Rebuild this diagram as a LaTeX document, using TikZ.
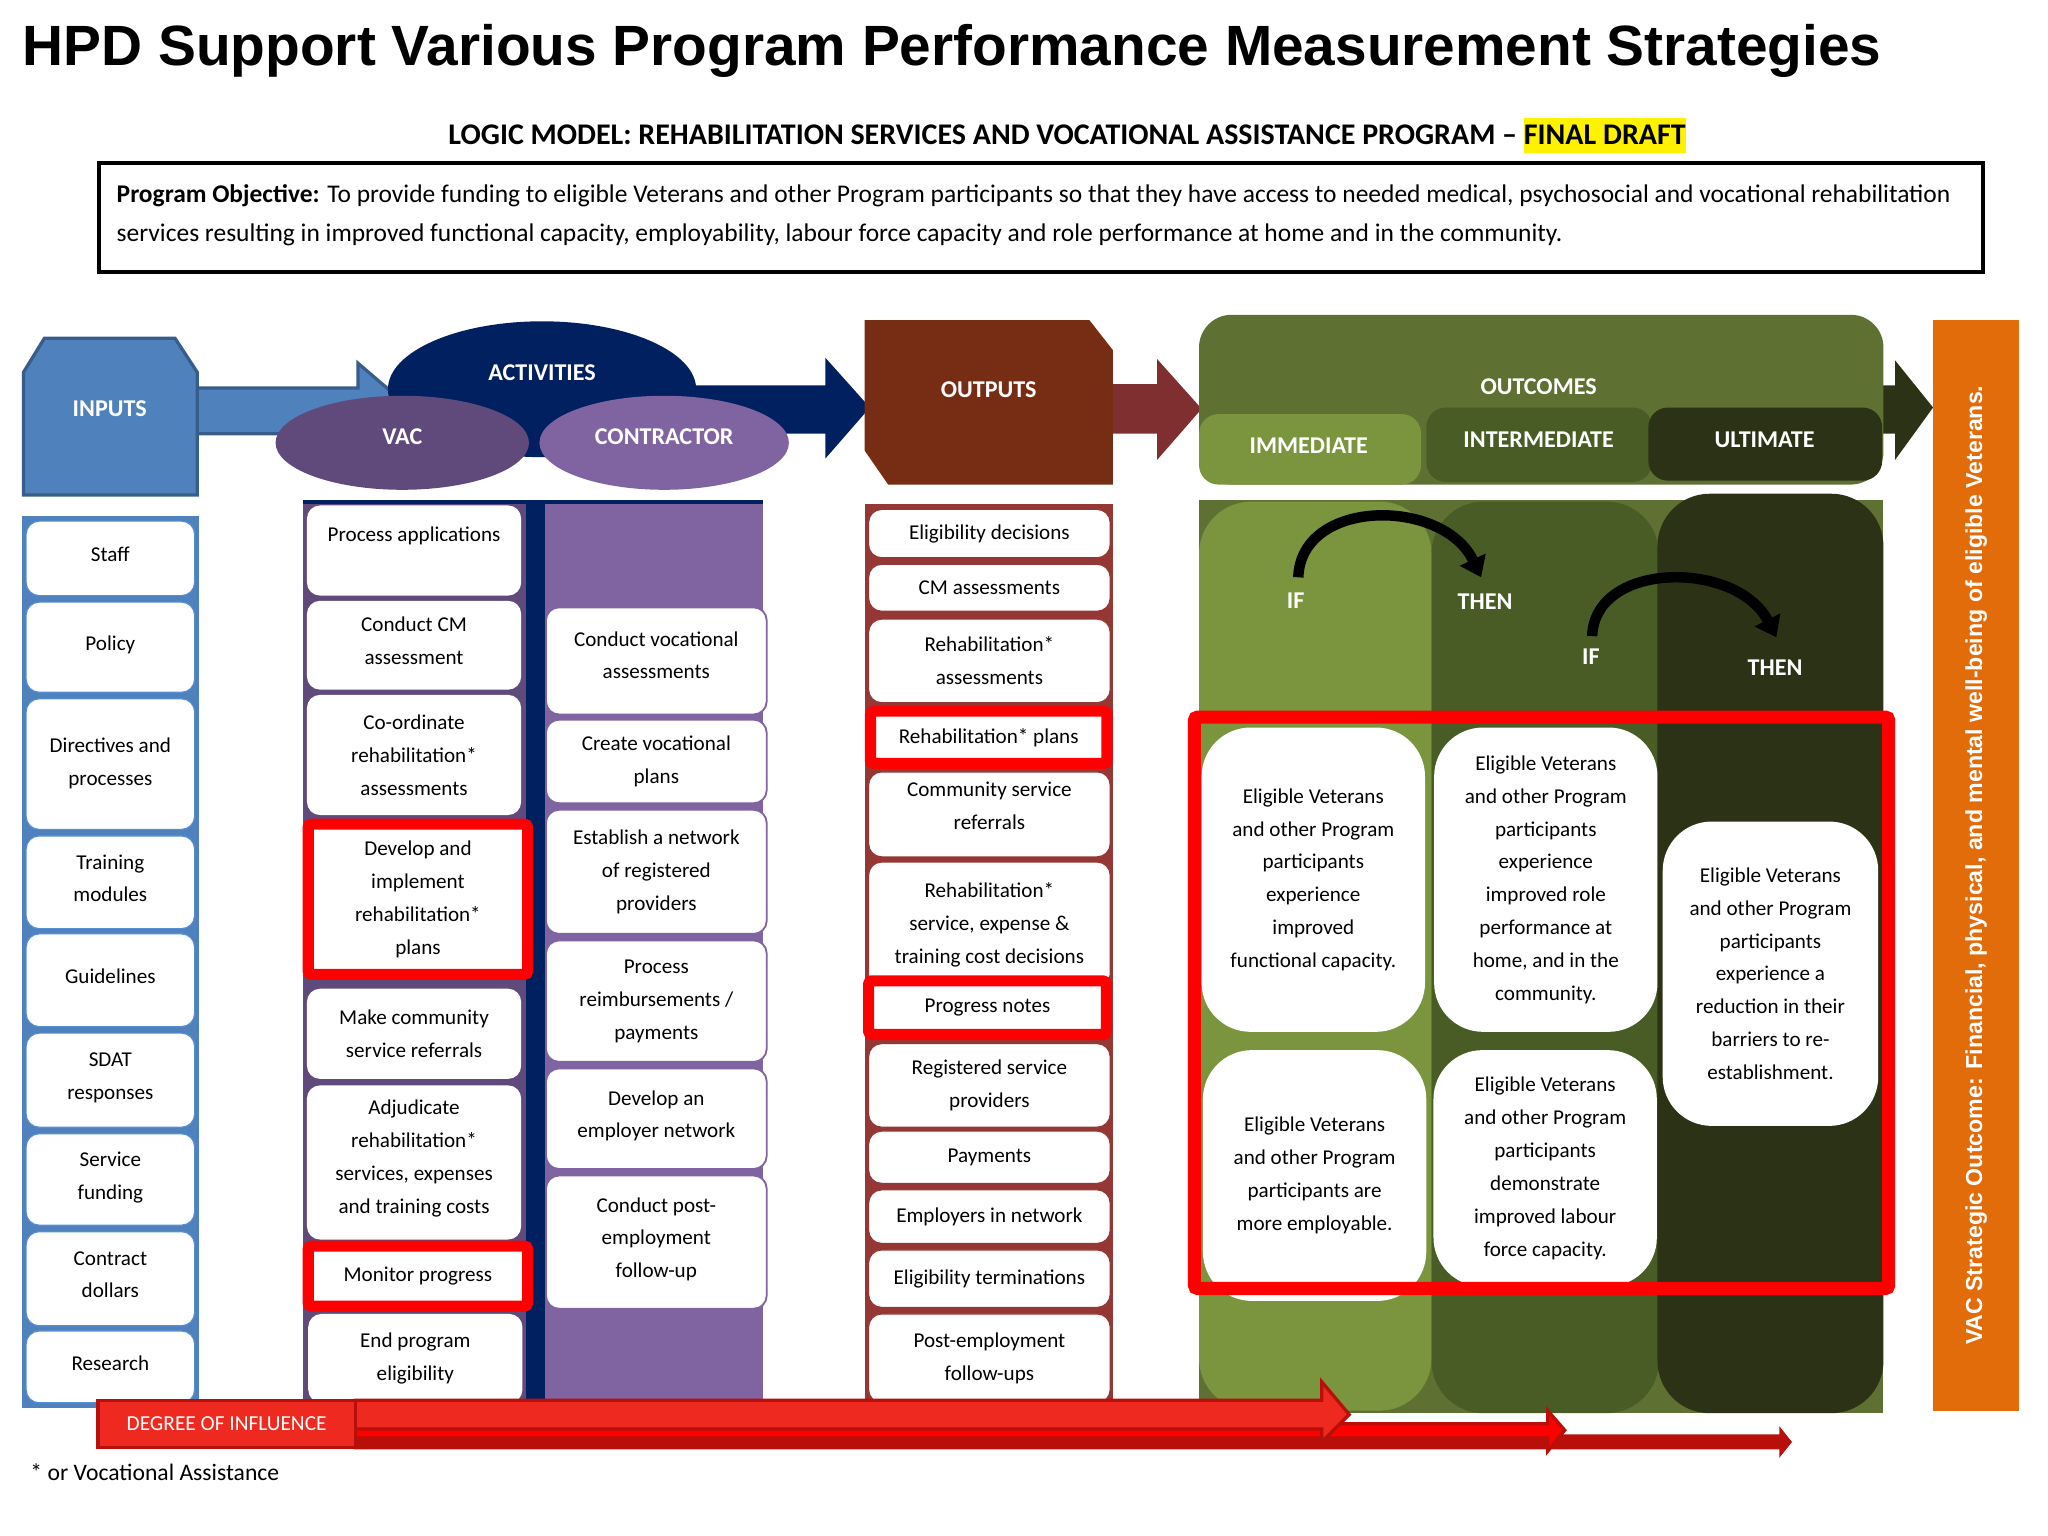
\documentclass[tikz,border=0pt]{standalone}
\usepackage{fontspec}
\setmainfont{Carlito}
\newfontfamily\arialfont{Liberation Sans}
\usetikzlibrary{shapes.geometric,arrows.meta}
\definecolor{inputblue}{HTML}{4F81BD}
\definecolor{inputedge}{HTML}{385D8A}
\definecolor{inputline}{HTML}{558ED5}
\definecolor{navy}{HTML}{002060}
\definecolor{vacpurple}{HTML}{604A7B}
\definecolor{conpurple}{HTML}{8064A2}
\definecolor{outbrown}{HTML}{772C14}
\definecolor{outarrow}{HTML}{7F2F30}
\definecolor{outcol}{HTML}{953735}
\definecolor{oliveback}{HTML}{5E7132}
\definecolor{olivelight}{HTML}{7A953D}
\definecolor{olivemid}{HTML}{4A5C25}
\definecolor{olivedark}{HTML}{2C3215}
\definecolor{barorange}{HTML}{E36C0A}
\definecolor{inflred}{HTML}{EE2A20}
\definecolor{infldark}{HTML}{B80F0A}
\tikzset{
  sized/.style 2 args={minimum width=#1*0.02cm,minimum height=#2*0.02cm},
  lift/.style={text depth=#1},
  txt/.style={inner sep=0pt,align=center,font=\fontsize{9.2}{14.3}\selectfont},
  wbox/.style={txt,fill=white,rounded corners=0.2cm},
  inbox/.style={wbox,draw=inputline,line width=0.5pt,lift=3.5pt},
  vacbox/.style={wbox},
  conbox/.style={wbox,draw=conpurple,line width=0.8pt},
  outbox/.style={wbox,draw=outcol,line width=0.5pt},
  redbox/.style={txt,fill=white,draw=red,line width=0.17cm,rounded corners=0.05cm},
  bigbox/.style={wbox,rounded corners=0.75cm},
  head/.style={inner sep=0pt,text=white,align=center,font=\fontsize{10.5}{12}\selectfont\bfseries},
}
\begin{document}
\begin{tikzpicture}[x=0.02cm,y=-0.02cm]
  \useasboundingbox (0,0) rectangle (1568,1176);
  % title and objective
  \node[anchor=west,inner sep=0pt,font=\arialfont\fontsize{24.75}{28}\selectfont\bfseries] (title) at (17,39) {HPD Support Various Program Performance Measurement Strategies};
  \fill[yellow] (1167,90) rectangle (1291,117);
  \node[anchor=west,inner sep=0pt,font=\fontsize{13.07}{15}\selectfont\bfseries] (subtitle) at (343,103) {LOGIC MODEL: REHABILITATION SERVICES AND VOCATIONAL ASSISTANCE PROGRAM -- FINAL DRAFT};
  \draw[line width=0.06cm] (76,125) rectangle (1518,208);
  \node[anchor=west,inner sep=0pt,font=\fontsize{11.1}{13}\selectfont] (objectiveone) at (89,150) {\textbf{Program Objective:} To provide funding to eligible Veterans and other Program participants so that they have access to needed medical, psychosocial and vocational rehabilitation};
  \node[anchor=west,inner sep=0pt,font=\fontsize{11.1}{13}\selectfont] (objectivetwo) at (89,180) {services resulting in improved functional capacity, employability, labour force capacity and role performance at home and in the community.};

  % inputs
  \draw[fill=inputblue,draw=inputedge,line width=0.05cm] (150,297) -- (274,297) -- (274,278) -- (316,314) -- (274,350) -- (274,332) -- (150,332) -- cycle;
  \draw[fill=inputblue,draw=inputedge,line width=0.05cm] (18,285) -- (34,259) -- (134,259) -- (151,285) -- (151,379) -- (18,379) -- cycle;
  \node[head] (inputs) at (84,313) {INPUTS};
  \fill[inputblue] (17,395) rectangle (152,1078);
  \node[inbox,sized={129}{57}] (staff) at (84.5,427.5) {Staff};
  \node[inbox,sized={129}{69}] (policy) at (84.5,495.5) {Policy};
  \node[inbox,lift=2pt,sized={129}{100}] (directives) at (84.5,585) {Directives and\\processes};
  \node[inbox,sized={129}{71}] (training) at (84.5,675.5) {Training\\modules};
  \node[inbox,sized={129}{71}] (guidelines) at (84.5,750.5) {Guidelines};
  \node[inbox,sized={129}{72}] (sdat) at (84.5,827) {SDAT\\responses};
  \node[inbox,sized={129}{70}] (service) at (84.5,903) {Service\\funding};
  \node[inbox,sized={129}{72}] (contract) at (84.5,979) {Contract\\dollars};
  \node[inbox,sized={129}{55}] (research) at (84.5,1046.5) {Research};

  % activities
  \fill[navy] (520,295) -- (632,295) -- (632,274) -- (666,312) -- (632,351) -- (632,332) -- (520,332) -- cycle;
  \node[ellipse,fill=navy,sized={236}{104},head] (activities) at (415,298) {\raisebox{0.52cm}{ACTIVITIES}};
  \node[ellipse,fill=vacpurple,sized={194}{72},head] (vac) at (308,339) {\raisebox{0.2cm}{VAC}};
  \node[ellipse,fill=conpurple,sized={191}{72},head] (contractor) at (508.5,339) {\raisebox{0.2cm}{CONTRACTOR}};
  \fill[navy] (232,383) rectangle (584,1072);
  \fill[vacpurple] (232,386) rectangle (403,1072);
  \fill[conpurple] (417,386) rectangle (584,1072);
  \node[vacbox,sized={164}{69}] (applications) at (317,421.5) {Process applications\\\mbox{}};
  \node[vacbox,lift=4pt,sized={164}{68}] (cmassess) at (317,494) {Conduct CM\\assessment};
  \node[vacbox,sized={164}{92}] (coordinate) at (317,578) {Co-ordinate\\rehabilitation*\\assessments};
  \node[vacbox,sized={164}{69}] (referrals) at (317,791.5) {Make community\\service referrals};
  \node[vacbox,lift=5pt,sized={164}{118}] (adjudicate) at (317,890) {Adjudicate\\rehabilitation*\\services, expenses\\and training costs};
  \node[vacbox,sized={164}{68}] (endprogram) at (318,1040) {End program\\eligibility};
  \node[redbox,sized={168}{115}] (develop) at (320,688.5) {Develop and\\implement\\rehabilitation*\\plans};
  \node[redbox,sized={168}{46}] (monitor) at (320,977) {Monitor progress};
  \node[conbox,lift=5pt,sized={169}{82}] (vocational) at (502.5,506) {Conduct vocational\\assessments};
  \node[conbox,sized={169}{64}] (vocplans) at (502.5,583) {Create vocational\\plans};
  \node[conbox,sized={169}{95}] (network) at (502.5,667.5) {Establish a network\\of registered\\providers};
  \node[conbox,sized={169}{93}] (reimburse) at (502.5,766.5) {Process\\reimbursements /\\payments};
  \node[conbox,lift=4pt,sized={169}{77}] (employer) at (502.5,856.5) {Develop an\\employer network};
  \node[conbox,lift=4pt,sized={169}{102}] (postemploy) at (502.5,951) {Conduct post-\\employment\\follow-up};

  % outputs
  \fill[outarrow] (840,294) -- (886,294) -- (886,275) -- (920,313) -- (886,352) -- (886,332) -- (840,332) -- cycle;
  \fill[outbrown] (662,245) -- (834,245) -- (852,268) -- (852,371) -- (680,371) -- (662,345) -- cycle;
  \node[head] (outputs) at (757,298) {OUTPUTS};
  \fill[outcol] (662,386) rectangle (852,1072);
  \node[outbox,sized={185}{37}] (decisions) at (757.5,408.5) {Eligibility decisions};
  \node[outbox,sized={185}{36}] (cmout) at (757.5,450) {CM assessments};
  \node[outbox,sized={185}{64}] (rehabassess) at (757.5,506) {Rehabilitation*\\assessments};
  \node[outbox,lift=7.5pt,sized={185}{65}] (community) at (757.5,623.5) {Community service\\referrals};
  \node[outbox,sized={185}{96}] (rehabservice) at (757.5,708) {Rehabilitation*\\service, expense \&\\training cost decisions};
  \node[outbox,sized={185}{64}] (registered) at (757.5,831) {Registered service\\providers};
  \node[outbox,sized={185}{40}] (payments) at (757.5,886) {Payments};
  \node[outbox,sized={185}{41}] (employers) at (757.5,931.5) {Employers in network};
  \node[outbox,sized={185}{44}] (terminations) at (757.5,979) {Eligibility terminations};
  \node[outbox,sized={185}{68}] (followups) at (757.5,1040) {Post-employment\\follow-ups};
  \node[redbox,sized={181}{40}] (rehabplans) at (757,564.5) {Rehabilitation* plans};
  \node[redbox,sized={182}{41}] (progress) at (756,771.5) {Progress notes};

  % outcomes
  \fill[olivedark] (1430,295) -- (1451,295) -- (1451,276) -- (1480,312) -- (1451,352) -- (1451,332) -- (1430,332) -- cycle;
  \fill[oliveback,rounded corners=0.5cm] (918,241) rectangle (1442,371);
  \node[head] (outcomes) at (1178,296) {OUTCOMES};
  \fill[olivelight,rounded corners=0.3cm] (918,317) rectangle (1088,371);
  \fill[olivemid,rounded corners=0.3cm] (1092,312) rectangle (1265,369);
  \fill[olivedark,rounded corners=0.3cm] (1262,312) rectangle (1441,368);
  \node[head] (immediate) at (1002,341) {IMMEDIATE};
  \node[head] (intermediate) at (1178,337) {INTERMEDIATE};
  \node[head] (ultimate) at (1351,337) {ULTIMATE};
  \fill[oliveback] (918,383) rectangle (1442,1082);
  \fill[olivelight,rounded corners=0.8cm] (918,384) rectangle (1096,1080);
  \fill[olivemid,rounded corners=0.8cm] (1096,384) rectangle (1270,1082);
  \fill[olivedark,rounded corners=0.8cm] (1269,378) rectangle (1442,1082);
  \node[head] (ifone) at (992,460) {IF};
  \node[head] (thenone) at (1137,461) {THEN};
  \node[head] (iftwo) at (1218,503) {IF};
  \node[head] (thentwo) at (1359,511) {THEN};
  \coordinate (ifonetop) at (994,442);
  \coordinate (thenonetop) at (1134,442);
  \coordinate (iftwotop) at (1219,487);
  \coordinate (thentwotop) at (1360,488);
  \draw[line width=0.16cm,-{Triangle[width=0.42cm,length=0.3cm]}] (ifonetop) .. controls (996,381) and (1105,381) .. (thenonetop);
  \draw[line width=0.16cm,-{Triangle[width=0.42cm,length=0.3cm]}] (iftwotop) .. controls (1221,429) and (1330,429) .. (thentwotop);
  \node[bigbox,sized={171}{233}] (functional) at (1005.5,673.5) {Eligible Veterans\\and other Program\\participants\\experience\\improved\\functional capacity.};
  \node[bigbox,sized={171}{233}] (roleperf) at (1183.5,673.5) {Eligible Veterans\\and other Program\\participants\\experience\\improved role\\performance at\\home, and in the\\community.};
  \node[bigbox,sized={171}{192}] (employable) at (1006.5,900) {Eligible Veterans\\and other Program\\participants are\\more employable.};
  \node[bigbox,sized={171}{181}] (labour) at (1183,894.5) {Eligible Veterans\\and other Program\\participants\\demonstrate\\improved labour\\force capacity.};
  \node[bigbox,sized={165}{233}] (barriers) at (1355.5,745.5) {Eligible Veterans\\and other Program\\participants\\experience a\\reduction in their\\barriers to re-\\establishment.};
  \draw[red,line width=0.2cm,rounded corners=0.05cm] (914.5,549) rectangle (1446,986.5);

  % strategic outcome bar
  \node[fill=barorange,text=white,rotate=90,inner sep=0pt,sized={835}{66},font=\arialfont\fontsize{10.08}{12}\selectfont\bfseries] (strategic) at (1513,662.5) {VAC Strategic Outcome: Financial, physical, and mental well-being of eligible Veterans.};

  % degree of influence
  \draw[fill=infldark,draw=infldark,line width=0.03cm] (272,1099) -- (1363,1099) -- (1363,1094) -- (1371,1104) -- (1363,1114) -- (1363,1109) -- (272,1109) -- cycle;
  \draw[fill=red,draw=infldark,line width=0.05cm] (272,1090) -- (1185,1090) -- (1185,1080) -- (1198,1095) -- (1185,1111) -- (1185,1101) -- (272,1101) -- cycle;
  \draw[fill=inflred,draw=infldark,line width=0.05cm] (272,1072) -- (1012,1072) -- (1012,1058) -- (1033,1083) -- (1012,1104) -- (1012,1094) -- (272,1094) -- cycle;
  \node[fill=inflred,draw=infldark,line width=0.05cm,text=white,inner sep=0pt,sized={197}{36},font=\fontsize{9.3}{11}\selectfont] (degree) at (173.5,1090) {DEGREE OF INFLUENCE};
  \node[anchor=west,inner sep=0pt,font=\fontsize{10.3}{12}\selectfont] (footnote) at (23,1127) {* or Vocational Assistance};
\end{tikzpicture}
\end{document}
